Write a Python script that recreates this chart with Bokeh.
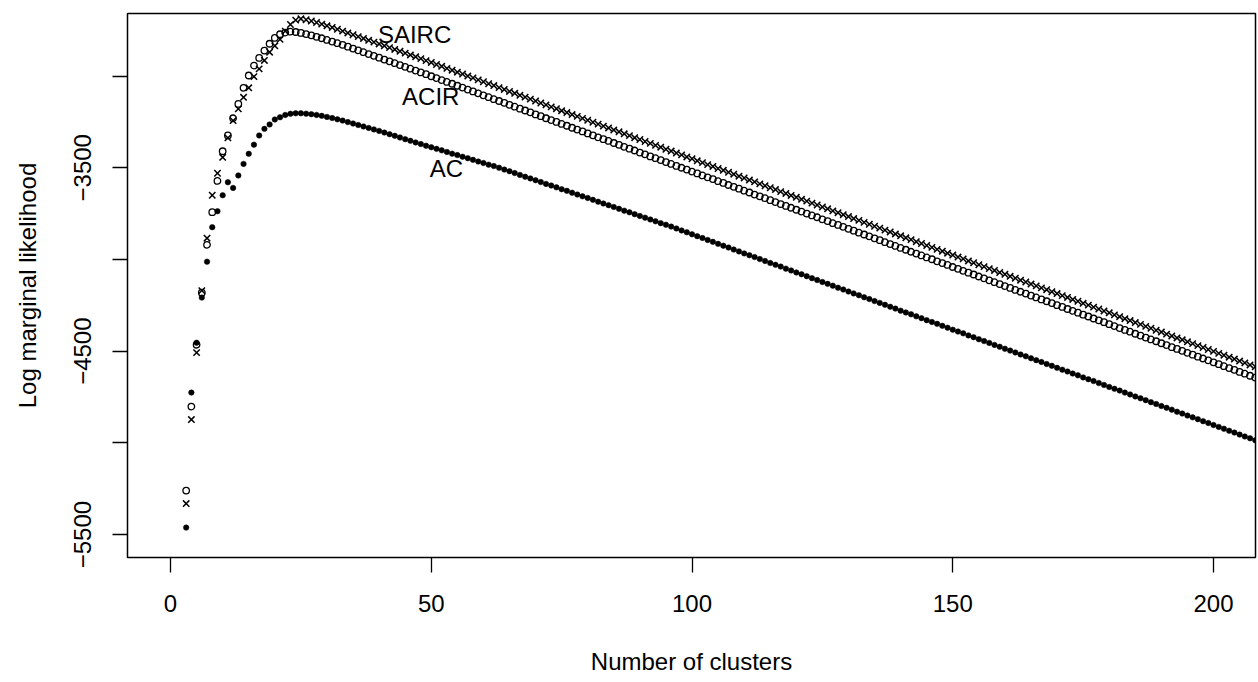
from bokeh.plotting import figure
from bokeh.models import Range1d, FixedTicker, Label
from bokeh.embed import file_html
from bokeh.resources import INLINE

# Number of clusters
clusters = list(range(3, 209))

# Log marginal likelihood per model
sairc = [
    -5331, -4873, -4508, -4170, -3884, -3650, -3530, -3443, -3337, -3243,
    -3179, -3116, -3064, -3003, -2961, -2915, -2870, -2835, -2800, -2755,
    -2719, -2695, -2688, -2693, -2700, -2708, -2717, -2726, -2735, -2745,
    -2755, -2765, -2775, -2785, -2795, -2805, -2815, -2825, -2835, -2845,
    -2855, -2865, -2875, -2885, -2895, -2905, -2916, -2926, -2937, -2947,
    -2958, -2968, -2979, -2989, -3000, -3010, -3021, -3031, -3042, -3052,
    -3063, -3073, -3084, -3094, -3105, -3115, -3126, -3136, -3147, -3157,
    -3168, -3178, -3189, -3199, -3210, -3220, -3231, -3241, -3252, -3262,
    -3273, -3283, -3294, -3304, -3315, -3325, -3336, -3346, -3357, -3367,
    -3378, -3388, -3399, -3409, -3420, -3430, -3441, -3451, -3462, -3472,
    -3483, -3493, -3504, -3514, -3525, -3535, -3546, -3556, -3567, -3577,
    -3588, -3598, -3609, -3619, -3630, -3640, -3651, -3661, -3672, -3682,
    -3693, -3703, -3714, -3724, -3735, -3745, -3756, -3766, -3777, -3787,
    -3798, -3808, -3819, -3829, -3840, -3850, -3861, -3871, -3882, -3892,
    -3903, -3913, -3924, -3934, -3945, -3955, -3966, -3976, -3987, -3997,
    -4008, -4018, -4029, -4039, -4050, -4060, -4071, -4081, -4092, -4102,
    -4113, -4123, -4134, -4144, -4155, -4165, -4176, -4186, -4197, -4207,
    -4218, -4228, -4239, -4249, -4260, -4270, -4281, -4291, -4302, -4312,
    -4323, -4333, -4344, -4354, -4365, -4375, -4386, -4396, -4407, -4417,
    -4428, -4438, -4449, -4459, -4470, -4480, -4491, -4501, -4512, -4522,
    -4533, -4543, -4554, -4564, -4575, -4585,
]

acir = [
    -5260, -4802, -4465, -4181, -3920, -3742, -3572, -3410, -3324, -3230,
    -3152, -3064, -2997, -2943, -2901, -2861, -2824, -2792, -2772, -2763,
    -2758, -2760, -2765, -2771, -2778, -2786, -2794, -2803, -2812, -2821,
    -2830, -2840, -2850, -2860, -2870, -2880, -2890, -2900, -2910, -2920,
    -2930, -2940, -2950, -2960, -2970, -2980, -2990, -3001, -3011, -3022,
    -3032, -3042, -3053, -3063, -3074, -3084, -3094, -3105, -3115, -3126,
    -3136, -3146, -3157, -3167, -3178, -3188, -3198, -3209, -3219, -3230,
    -3240, -3250, -3261, -3271, -3282, -3292, -3302, -3313, -3323, -3334,
    -3344, -3354, -3365, -3375, -3386, -3396, -3406, -3417, -3427, -3438,
    -3448, -3458, -3469, -3479, -3490, -3500, -3510, -3521, -3531, -3542,
    -3552, -3562, -3573, -3583, -3594, -3604, -3614, -3625, -3635, -3646,
    -3656, -3666, -3677, -3687, -3698, -3708, -3718, -3729, -3739, -3750,
    -3760, -3770, -3781, -3791, -3802, -3812, -3822, -3833, -3843, -3854,
    -3864, -3874, -3885, -3895, -3906, -3916, -3926, -3937, -3947, -3958,
    -3968, -3978, -3989, -3999, -4010, -4020, -4030, -4041, -4051, -4062,
    -4072, -4082, -4093, -4103, -4114, -4124, -4134, -4145, -4155, -4166,
    -4176, -4186, -4197, -4207, -4218, -4228, -4238, -4249, -4259, -4270,
    -4280, -4290, -4301, -4311, -4322, -4332, -4342, -4353, -4363, -4374,
    -4384, -4394, -4405, -4415, -4426, -4436, -4446, -4457, -4467, -4478,
    -4488, -4498, -4509, -4519, -4530, -4540, -4550, -4561, -4571, -4582,
    -4592, -4602, -4613, -4623, -4634, -4644,
]

ac = [
    -5462, -4726, -4454, -4208, -4012, -3824, -3737, -3650, -3579, -3610,
    -3542, -3479, -3424, -3374, -3324, -3288, -3264, -3237, -3225, -3212,
    -3206, -3203, -3203, -3205, -3208, -3212, -3217, -3223, -3229, -3236,
    -3243, -3251, -3259, -3267, -3275, -3283, -3291, -3299, -3308, -3317,
    -3326, -3335, -3344, -3353, -3362, -3371, -3380, -3388, -3397, -3405,
    -3414, -3423, -3431, -3440, -3448, -3457, -3466, -3474, -3483, -3491,
    -3500, -3510, -3519, -3529, -3539, -3549, -3558, -3568, -3578, -3588,
    -3597, -3607, -3617, -3626, -3636, -3646, -3656, -3665, -3675, -3685,
    -3695, -3704, -3714, -3724, -3734, -3743, -3753, -3763, -3772, -3782,
    -3792, -3802, -3811, -3821, -3831, -3842, -3852, -3863, -3873, -3883,
    -3894, -3904, -3915, -3925, -3935, -3946, -3956, -3967, -3977, -3987,
    -3998, -4008, -4019, -4029, -4039, -4050, -4060, -4071, -4081, -4091,
    -4102, -4112, -4123, -4133, -4143, -4154, -4164, -4175, -4185, -4195,
    -4206, -4216, -4227, -4237, -4247, -4258, -4268, -4279, -4289, -4299,
    -4310, -4320, -4331, -4341, -4351, -4362, -4372, -4383, -4393, -4403,
    -4414, -4424, -4435, -4445, -4455, -4466, -4476, -4487, -4497, -4507,
    -4518, -4528, -4539, -4549, -4559, -4570, -4580, -4591, -4601, -4611,
    -4622, -4632, -4643, -4653, -4663, -4674, -4684, -4695, -4705, -4715,
    -4726, -4736, -4747, -4757, -4767, -4778, -4788, -4799, -4809, -4819,
    -4830, -4840, -4851, -4861, -4871, -4882, -4892, -4903, -4913, -4923,
    -4934, -4944, -4955, -4965, -4975, -4986,
]

x_ticks = [0, 50, 100, 150, 200]
y_ticks = [-5500, -5000, -4500, -4000, -3500, -3000]
y_tick_labels = {-5500: "\u22125500", -5000: "", -4500: "\u22124500",
                 -4000: "", -3500: "\u22123500", -3000: ""}

series_labels = ["SAIRC", "ACIR", "AC"]

FONT = "Liberation Sans"
FS = "24px"

p = figure(width=1258, height=682, output_backend="svg", toolbar_location=None,
           x_range=Range1d(-8.25, 208.05), y_range=Range1d(-5625, -2659),
           min_border_left=127, min_border_right=3, min_border_top=13,
           min_border_bottom=125, background_fill_color="white",
           border_fill_color="white")

p.xgrid.visible = False
p.ygrid.visible = False
p.outline_line_color = "black"
p.outline_line_width = 1.5
p.outline_line_alpha = 1.0

for ax in (p.xaxis[0], p.yaxis[0]):
    ax.axis_line_color = None
    ax.major_tick_out = 15
    ax.major_tick_in = 0
    ax.minor_tick_out = 0
    ax.minor_tick_in = 0
    ax.major_tick_line_color = "black"
    ax.major_tick_line_width = 1.3
    ax.major_label_text_font = FONT
    ax.major_label_text_font_size = FS
    ax.major_label_text_color = "black"
    ax.axis_label_text_font = FONT
    ax.axis_label_text_font_size = FS
    ax.axis_label_text_font_style = "normal"
    ax.axis_label_text_color = "black"

p.xaxis.ticker = FixedTicker(ticks=x_ticks)
p.xaxis.axis_label = "Number of clusters"
p.xaxis.major_label_standoff = 22
p.xaxis.axis_label_standoff = 33

p.yaxis.ticker = FixedTicker(ticks=y_ticks)
p.yaxis.major_label_overrides = y_tick_labels
p.yaxis.major_label_orientation = "vertical"
p.yaxis.axis_label = "Log marginal likelihood"
p.yaxis.major_label_standoff = 21
p.yaxis.axis_label_standoff = 31

p.scatter(clusters, sairc, marker="x", size=9, line_color="black", line_width=1.5)
p.scatter(clusters, acir, marker="circle", size=6.5, fill_color=None,
          line_color="black", line_width=1.3)
p.scatter(clusters, ac, marker="circle", size=5.5, fill_color="black",
          line_color="black", line_width=0.5)

label_pos = [(46.8, -2775), (49.9, -3113), (52.9, -3504)]
for name, (lx, ly) in zip(series_labels, label_pos):
    p.add_layout(Label(x=lx, y=ly, text=name, text_align="center",
                       text_baseline="middle", text_font=FONT,
                       text_font_size=FS, text_color="black"))

open("out.html", "w").write(file_html(p, INLINE))
